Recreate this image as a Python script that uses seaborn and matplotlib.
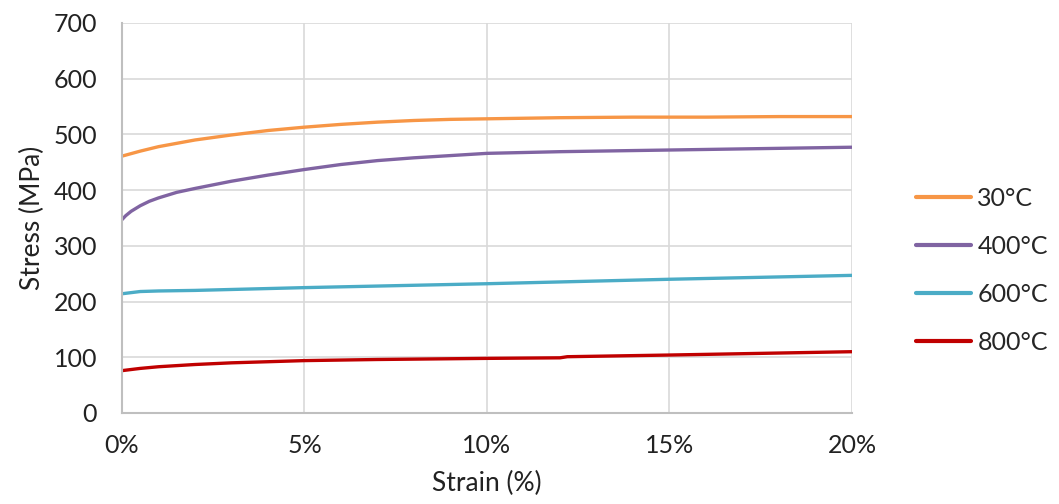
import numpy as np
import pandas as pd
import matplotlib
matplotlib.use("Agg")
import matplotlib.pyplot as plt
import seaborn as sns
from matplotlib.ticker import FuncFormatter

# Data (strain in %, stress in MPa)
strain_30 = [0, 0.5, 1, 2, 3, 4, 5, 6, 7, 8, 9, 10, 12, 14, 16, 18, 20]
stress_30 = [461, 470, 478, 490, 499, 507, 513, 518, 522, 525, 527, 528, 530, 531, 531, 532, 532]

strain_400 = [0, 0.1, 0.25, 0.5, 0.75, 1, 1.5, 2, 3, 4, 5, 6, 7, 8, 9, 10, 12, 14, 16, 18, 20]
stress_400 = [347, 354, 362, 372, 380, 386, 396, 403, 416, 427, 437, 446, 453, 458, 462, 466, 469, 471, 473, 475, 477]

strain_600 = [0, 0.25, 0.5, 1, 2, 5, 10, 15, 20]
stress_600 = [214, 216, 218, 219, 220, 225, 232, 240, 247]

strain_800 = [0, 0.5, 1, 2, 3, 4, 5, 7, 10, 12, 12.2, 15, 20]
stress_800 = [76, 80, 83, 87, 90, 92, 94, 96, 98, 99, 101, 104, 110]

series_names = ["30°C", "400°C", "600°C", "800°C"]
colors = ["#F79646", "#8064A2", "#4BACC6", "#C00000"]

frames = []
for name, xs, ys in zip(series_names,
                        [strain_30, strain_400, strain_600, strain_800],
                        [stress_30, stress_400, stress_600, stress_800]):
    frames.append(pd.DataFrame({"strain": xs, "stress": ys, "temp": name}))
df = pd.concat(frames, ignore_index=True)

sns.set_style("white")
plt.rcParams["font.family"] = ["Lato", "DejaVu Sans"]

fig = plt.figure(figsize=(10.59, 5.04), dpi=100)
ax = fig.add_axes([0.1152, 0.1806, 0.6893, 0.7738])

sns.lineplot(data=df, x="strain", y="stress", hue="temp", hue_order=series_names,
             palette=colors, linewidth=2.4, ax=ax, sort=True, estimator=None)

ax.set_xlim(0, 20)
ax.set_ylim(0, 700)
ax.set_xticks([0, 5, 10, 15, 20])
ax.set_yticks(range(0, 701, 100))
ax.xaxis.set_major_formatter(FuncFormatter(lambda v, p: f"{int(v)}%"))
ax.grid(True, color="#D9D9D9", linewidth=1.2)
ax.set_axisbelow(True)
for s in ["top", "right"]:
    ax.spines[s].set_visible(False)
for s in ["left", "bottom"]:
    ax.spines[s].set_color("#BFBFBF")
    ax.spines[s].set_linewidth(1.5)
ax.tick_params(axis="both", length=0, labelsize=18, colors="#222222")
ax.tick_params(axis="x", pad=15)
ax.tick_params(axis="y", pad=18)
ax.set_xlabel("Strain (%)", fontsize=19, color="#222222", labelpad=10)
ax.set_ylabel("Stress (MPa)", fontsize=19, color="#222222", labelpad=6)

leg = ax.legend(loc="center left", bbox_to_anchor=(1.057, 0.365), frameon=False,
                fontsize=18, handlelength=2.2, handletextpad=0.25, labelspacing=1.0)
for line in leg.get_lines():
    line.set_linewidth(3)

fig.savefig("out.png", dpi=100)
